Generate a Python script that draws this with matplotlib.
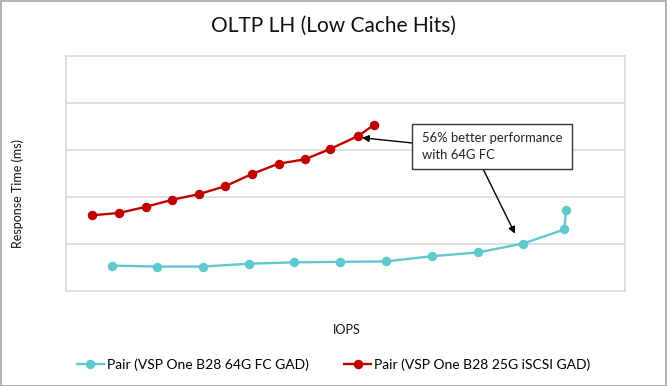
import matplotlib.pyplot as plt
from matplotlib.lines import Line2D
from matplotlib.patches import Rectangle

# IOPS (thousands) and response time (ms)
fc_iops = [45.7, 91.3, 137.0, 182.7, 228.3, 274.3, 320.0, 366.0, 411.7,
           457.3, 498.3, 500.0]
fc_rt = [0.54, 0.52, 0.52, 0.58, 0.61, 0.62, 0.63, 0.74, 0.82, 1.01,
         1.31, 1.72]
iscsi_iops = [26.0, 53.0, 79.7, 106.0, 132.7, 159.3, 186.0, 212.7, 238.7,
              264.0, 292.3, 307.7]
iscsi_rt = [1.61, 1.66, 1.79, 1.94, 2.06, 2.23, 2.49, 2.71, 2.80, 3.02,
            3.30, 3.53]
labels = ['Pair (VSP One B28 64G FC GAD)', 'Pair (VSP One B28 25G iSCSI GAD)']

cyan = '#5FC9CD'
red = '#C00000'
grid = '#D9D9D9'
plt.rcParams['font.family'] = ['Lato', 'DejaVu Sans']

fig = plt.figure(figsize=(6.67, 3.86), dpi=100)
# outer frame
fig.patches.append(Rectangle((0.001, 0.001), 0.997, 0.997,
                             transform=fig.transFigure, fill=False,
                             edgecolor='#A6A6A6', linewidth=1.2))

ax = fig.add_axes([66 / 667, 95 / 386, 559 / 667, 235 / 386])
ax.set_xlim(0, 559)
ax.set_ylim(0, 5)
ax.set_yticks([1, 2, 3, 4])
ax.set_xticks([])
ax.tick_params(left=False, labelleft=False)
ax.yaxis.grid(True, color=grid, linewidth=1.2)
ax.set_axisbelow(True)
for s in ax.spines.values():
    s.set_color(grid)
    s.set_linewidth(1.2)

ax.plot(fc_iops, fc_rt, color=cyan, marker='o', markersize=5.8,
        linewidth=1.7, label=labels[0])
ax.plot(iscsi_iops, iscsi_rt, color=red, marker='o', markersize=5.8,
        linewidth=1.7, label=labels[1])

# callout box with two arrows
ax.add_patch(Rectangle((346, 2.60), 160, 0.95, facecolor='white',
                       edgecolor='#333333', linewidth=1.0, zorder=4))
ax.text(356, 3.07, '56% better performance\nwith 64G FC', fontsize=9.4,
        va='center', ha='left', linespacing=1.45, color='#222222',
        zorder=5)
ax.annotate('', xy=(296, 3.26), xytext=(346, 3.15),
            arrowprops=dict(arrowstyle='-|>', color='black', lw=1,
                            mutation_scale=10, shrinkA=0, shrinkB=0))
ax.annotate('', xy=(449, 1.22), xytext=(417, 2.60),
            arrowprops=dict(arrowstyle='-|>', color='black', lw=1,
                            mutation_scale=10, shrinkA=0, shrinkB=0))

fig.text(0.5, 0.932, 'OLTP LH (Low Cache Hits)', ha='center', va='center',
         fontsize=15, color='#111111')
fig.text(18 / 667, 0.5, 'Response Time (ms)', rotation=90, ha='center',
         va='center', fontsize=9, color='#111111')
fig.text(347 / 667, 1 - 330 / 386, 'IOPS', ha='center', va='center',
         fontsize=9, color='#111111')

handles = [Line2D([0], [0], color=cyan, marker='o', markersize=5.8, lw=1.7),
           Line2D([0], [0], color=red, marker='o', markersize=5.8, lw=1.7)]
fig.legend(handles, labels, loc='center', bbox_to_anchor=(0.5, 1 - 365 / 386),
           ncol=2, frameon=False, fontsize=10, handlelength=2.0,
           handletextpad=0.2, columnspacing=2.5)

fig.savefig('out.png', dpi=100)
